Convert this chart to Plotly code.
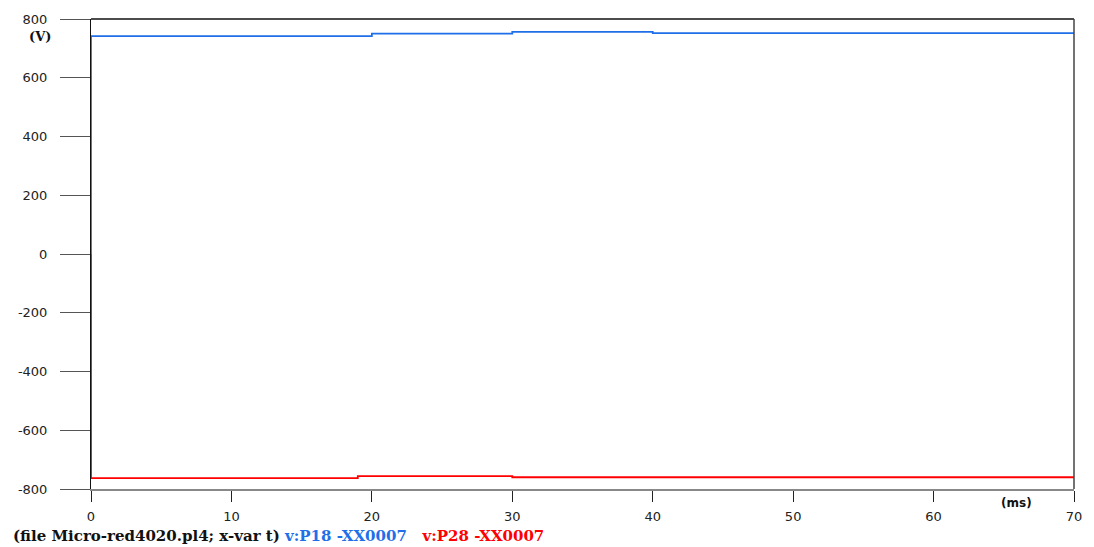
import plotly.graph_objects as go

# time points (ms) and voltages (V), step-wise
t_p18 = [0, 0, 20, 30, 40, 70]
v_p18 = [0, 742, 750, 756, 752, 752]

t_p28 = [0, 0, 19, 30, 70]
v_p28 = [0, -763, -756, -760, -760]

y_ticks = [-800, -600, -400, -200, 0, 200, 400, 600, 800]
x_ticks = [0, 10, 20, 30, 40, 50, 60, 70]

fig = go.Figure()
fig.add_trace(go.Scatter(x=t_p18, y=v_p18, mode="lines", line_shape="hv",
                         line=dict(color="#1f6fe8", width=1.8), name="v:P18 -XX0007"))
fig.add_trace(go.Scatter(x=t_p28, y=v_p28, mode="lines", line_shape="hv",
                         line=dict(color="#ff0000", width=1.8), name="v:P28 -XX0007"))

tickfont = dict(family="DejaVu Sans", size=13, color="#222")
fig.update_layout(
    width=1094, height=547,
    margin=dict(l=91, r=19, t=15, b=58),
    paper_bgcolor="white", plot_bgcolor="white",
    showlegend=False,
    xaxis=dict(range=[0, 70], tickvals=x_ticks, ticktext=[str(v) for v in x_ticks],
               ticks="outside", ticklen=11,
               tickcolor="#222", tickwidth=1.2, showgrid=False, zeroline=False,
               showline=True, linecolor="#888", linewidth=1.5, layer="below traces",
               tickfont=tickfont, ticklabelstandoff=4),
    yaxis=dict(range=[-800, 800], tickvals=y_ticks, ticktext=[str(v) for v in y_ticks],
               ticks="outside", ticklen=30,
               tickcolor="#555", tickwidth=1.2, showgrid=False, zeroline=False,
               showline=True, linecolor="#111", linewidth=1, layer="below traces",
               tickfont=tickfont, ticklabelstandoff=10),
    shapes=[
        dict(type="line", xref="paper", yref="paper", x0=0, x1=1, y0=1, y1=1,
             line=dict(color="#111", width=1.5)),
        dict(type="line", xref="paper", yref="paper", x0=1, x1=1, y0=0, y1=1,
             line=dict(color="#444", width=1.5)),
    ],
    annotations=[
        dict(text="<b>(V)</b>", xref="paper", yref="paper", x=-0.052, y=0.963,
             xanchor="center", yanchor="middle", showarrow=False,
             font=dict(family="DejaVu Serif", size=13, color="#111")),
        dict(text="<b>(ms)</b>", xref="paper", yref="paper", x=0.941, y=-0.03,
             xanchor="center", yanchor="middle", showarrow=False,
             font=dict(family="DejaVu Sans", size=12, color="#111")),
        dict(text="<b>(file Micro-red4020.pl4; x-var t) "
                  "<span style='color:#1f6fe8'>v:P18 -XX0007</span>&nbsp;&nbsp; "
                  "<span style='color:#ff0000'>v:P28 -XX0007</span></b>",
             xref="paper", yref="paper", x=-0.081, y=-0.101,
             xanchor="left", yanchor="middle", showarrow=False,
             font=dict(family="DejaVu Serif", size=15, color="#111")),
    ],
)

fig.write_html("out.html")
